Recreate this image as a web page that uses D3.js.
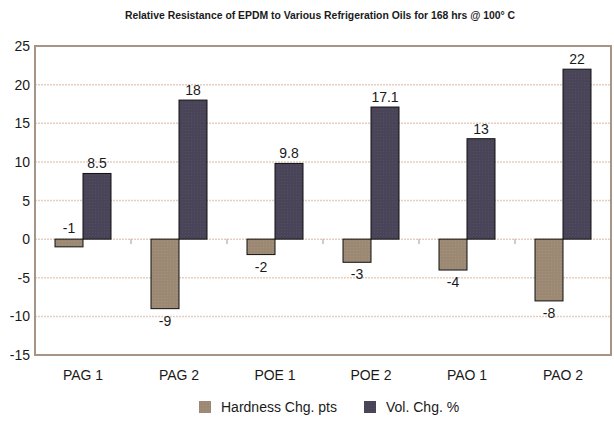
<!DOCTYPE html>
<html>
<head>
  <script src="https://cdnjs.cloudflare.com/ajax/libs/d3/7.8.5/d3.min.js"></script>
  <style>
  body { margin: 0; background: #fff; }
  text { font-family: "Liberation Sans", Arial, sans-serif; fill: #1a1a1a; }
  </style>
</head>
<body>
<script>

var categories = ["PAG 1", "PAG 2", "POE 1", "POE 2", "PAO 1", "PAO 2"];
var hardness = [-1, -9, -2, -3, -4, -8];
var volume = [8.5, 18, 9.8, 17.1, 13, 22];
var seriesNames = ["Hardness Chg. pts", "Vol. Chg. %"];
var yTicks = [-15, -10, -5, 0, 5, 10, 15, 20, 25];

var width = 614, height = 421;
var MARGINS = {left: 35, top: 46, right: 3, bottom: 66};
var colors = ["#9c8974", "#4a4458"];

var svg = d3.select("body").append("svg")
        .attr("width", width)
        .attr("height", height);

// dotted fill like the original print
var defs = svg.append("defs");
colors.forEach(function(c, i) {
  var p = defs.append("pattern")
     .attr("id", "dots" + i)
     .attr("width", 3)
     .attr("height", 3)
     .attr("patternUnits", "userSpaceOnUse");
  p.append("rect").attr("width", 3).attr("height", 3).attr("fill", c);
  p.append("rect").attr("x", 1).attr("y", 1).attr("width", 1).attr("height", 1)
     .attr("fill", i === 0 ? "#a8917e" : "#554d63");
});

var xScale = d3.scaleBand()
        .domain(categories)
        .range([MARGINS.left, width - MARGINS.right]);

var yScale = d3.scaleLinear()
        .domain([-15, 25])
        .range([height - MARGINS.bottom, MARGINS.top]);

var inner = d3.scaleBand()
        .domain([0, 1])
        .range([0, 56]);

// title
svg.append("text")
   .attr("x", 320)
   .attr("y", 19)
   .attr("text-anchor", "middle")
   .attr("font-size", "10.4px")
   .attr("font-weight", "bold")
   .text("Relative Resistance of EPDM to Various Refrigeration Oils for 168 hrs @ 100° C");

// grid lines
svg.append("g").selectAll("line")
   .data(yTicks.filter(function(t) { return t > -15 && t < 25; }))
   .enter().append("line")
   .attr("x1", MARGINS.left)
   .attr("x2", width - MARGINS.right)
   .attr("y1", function(d) { return yScale(d); })
   .attr("y2", function(d) { return yScale(d); })
   .attr("stroke", "#e4cfc0")
   .attr("stroke-width", 1.5)
   .attr("stroke-dasharray", "2,1");

// y axis labels
svg.append("g").selectAll("text")
   .data(yTicks)
   .enter().append("text")
   .attr("x", 30)
   .attr("y", function(d) { return yScale(d) + 5; })
   .attr("text-anchor", "end")
   .attr("font-size", "14px")
   .text(function(d) { return d; });

// category separator ticks on zero line
svg.append("g").selectAll("line")
   .data(categories.slice(1))
   .enter().append("line")
   .attr("x1", function(d) { return xScale(d); })
   .attr("x2", function(d) { return xScale(d); })
   .attr("y1", yScale(0))
   .attr("y2", yScale(0) + 5)
   .attr("stroke", "#999");

var groups = svg.append("g").selectAll("g")
   .data(categories)
   .enter().append("g")
   .attr("transform", function(d) {
     return "translate(" + (xScale(d) + xScale.bandwidth() / 2 - 28) + ",0)";
   });

[hardness, volume].forEach(function(series, s) {
  groups.append("rect")
     .attr("x", inner(s))
     .attr("width", inner.bandwidth())
     .attr("y", function(d, i) { return yScale(Math.max(0, series[i])); })
     .attr("height", function(d, i) { return Math.abs(yScale(series[i]) - yScale(0)); })
     .attr("fill", "url(#dots" + s + ")")
     .attr("stroke", "#111")
     .attr("stroke-width", 1);

  groups.append("text")
     .attr("x", inner(s) + inner.bandwidth() / 2)
     .attr("y", function(d, i) {
       var v = series[i];
       if (v >= 0) return yScale(v) - 5;
       if (v > -1.5) return yScale(0) - 6;   // short bar: label sits above
       return yScale(v) + 17;
     })
     .attr("text-anchor", "middle")
     .attr("font-size", "14px")
     .text(function(d, i) { return series[i]; });
});

// plot border
svg.append("rect")
   .attr("x", MARGINS.left)
   .attr("y", MARGINS.top)
   .attr("width", width - MARGINS.right - MARGINS.left)
   .attr("height", yScale(-15) - MARGINS.top)
   .attr("fill", "none")
   .attr("stroke", "#a89484")
   .attr("stroke-width", 2);

// x labels
svg.append("g").selectAll("text")
   .data(categories)
   .enter().append("text")
   .attr("x", function(d) { return xScale(d) + xScale.bandwidth() / 2; })
   .attr("y", 380)
   .attr("text-anchor", "middle")
   .attr("font-size", "14px")
   .text(function(d) { return d; });

// legend
var legendX = [199, 364];
var legend = svg.append("g").selectAll("g")
   .data(seriesNames)
   .enter().append("g")
   .attr("transform", function(d, i) { return "translate(" + legendX[i] + ",401)"; });

legend.append("rect")
   .attr("width", 12)
   .attr("height", 12)
   .attr("fill", function(d, i) { return "url(#dots" + i + ")"; });

legend.append("text")
   .attr("x", 22)
   .attr("y", 11)
   .attr("font-size", "14px")
   .text(function(d) { return d; });

</script>
</body>
</html>
